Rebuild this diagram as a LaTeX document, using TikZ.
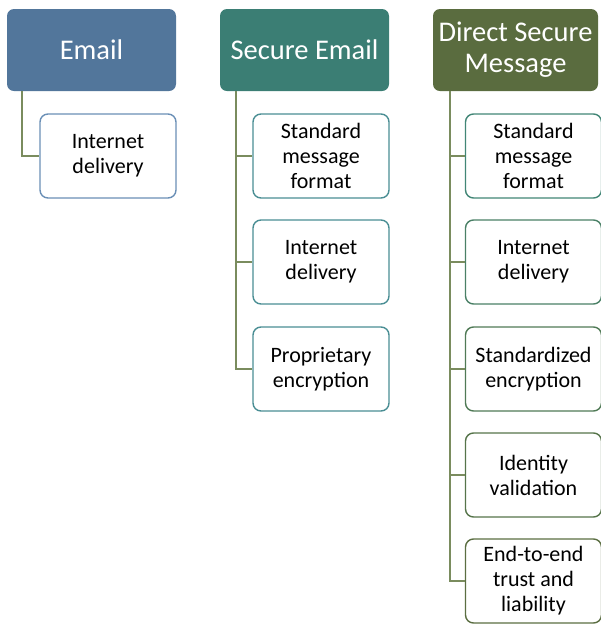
\documentclass[tikz,border=0pt]{standalone}
\usepackage{fontspec}
\setmainfont{Carlito}
\definecolor{emailc}{HTML}{52769B}
\definecolor{securec}{HTML}{3B7E74}
\definecolor{directc}{HTML}{5A6C3F}
\definecolor{conn}{HTML}{7A8C5E}
\definecolor{eb}{HTML}{6A8FB6}
\definecolor{sb}{HTML}{4A8E94}
\definecolor{d1}{HTML}{428676}
\definecolor{d2}{HTML}{4A8066}
\definecolor{d3}{HTML}{507A56}
\definecolor{d4}{HTML}{56744A}
\definecolor{d5}{HTML}{5B6E42}
\begin{document}
\begin{tikzpicture}[x=1pt,y=-1pt,
  header/.style={rounded corners=7pt, minimum height=82pt, text=white,
    font=\fontsize{28.5}{31}\selectfont, align=center, inner sep=0pt},
  child/.style={draw, line width=1.4pt, rounded corners=8pt, fill=white,
    minimum width=136pt, minimum height=84pt, text=black,
    font=\fontsize{22}{25}\selectfont, align=center, inner sep=0pt},
  link/.style={draw=conn, line width=1.8pt}]
\useasboundingbox (0,0) rectangle (601,625);
% headers
\node[header, fill=emailc, minimum width=169pt] (eh) at (91.5,50) {Email};
\node[header, fill=securec, minimum width=169pt] (sh) at (304.5,50) {Secure Email};
\node[header, fill=directc, minimum width=165pt] (dh) at (515.5,50) {Direct Secure\\Message};
% children
\node[child, draw=eb] (e1) at (108,156) {Internet\\delivery};
\node[child, draw=sb] (s1) at (321,156) {Standard\\message\\format};
\node[child, draw=sb] (s2) at (321,262) {Internet\\delivery};
\node[child, draw=sb] (s3) at (321,369) {Proprietary\\encryption};
\node[child, draw=d1] (d1n) at (533.5,156) {Standard\\message\\format};
\node[child, draw=d2] (d2n) at (533.5,262) {Internet\\delivery};
\node[child, draw=d3] (d3n) at (533.5,369) {Standardized\\encryption};
\node[child, draw=d4] (d4n) at (533.5,475) {Identity\\validation};
\node[child, draw=d5] (d5n) at (533.5,581) {End-to-end\\trust and\\liability};
% connectors
\draw[link] ([xshift=15pt]eh.south west) |- (e1.west);
\draw[link] ([xshift=16pt]sh.south west) |- (s3.west);
\draw[link] ([xshift=16pt]sh.south west) |- (s1.west);
\draw[link] ([xshift=16pt]sh.south west) |- (s2.west);
\draw[link] ([xshift=17pt]dh.south west) |- (d5n.west);
\draw[link] ([xshift=17pt]dh.south west) |- (d1n.west);
\draw[link] ([xshift=17pt]dh.south west) |- (d2n.west);
\draw[link] ([xshift=17pt]dh.south west) |- (d3n.west);
\draw[link] ([xshift=17pt]dh.south west) |- (d4n.west);
\end{tikzpicture}
\end{document}
